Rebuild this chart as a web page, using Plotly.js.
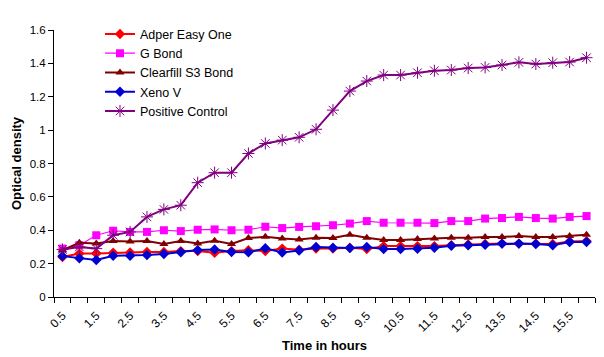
<!DOCTYPE html>
<html>
<head>
<meta charset="utf-8">
<script src="https://cdn.plot.ly/plotly-3.0.1.min.js"></script>
<style>html,body{margin:0;padding:0;background:#fff;}#chart{width:604px;height:357px;}</style>
</head>
<body>
<div id="chart"></div>
<script>
const hours = [0.5,1,1.5,2,2.5,3,3.5,4,4.5,5,5.5,6,6.5,7,7.5,8,8.5,9,9.5,10,10.5,11,11.5,12,12.5,13,13.5,14,14.5,15,15.5,16];
const tickLabels = ["0.5","1.5","2.5","3.5","4.5","5.5","6.5","7.5","8.5","9.5","10.5","11.5","12.5","13.5","14.5","15.5"];
const adper = [0.24,0.26,0.26,0.265,0.267,0.27,0.27,0.275,0.275,0.265,0.275,0.28,0.275,0.29,0.283,0.29,0.29,0.295,0.287,0.305,0.305,0.305,0.305,0.31,0.315,0.318,0.32,0.32,0.32,0.318,0.333,0.335];
const gbond = [0.29,0.31,0.37,0.397,0.39,0.39,0.40,0.395,0.403,0.405,0.40,0.403,0.421,0.413,0.42,0.424,0.43,0.44,0.455,0.445,0.445,0.445,0.443,0.455,0.455,0.47,0.473,0.48,0.473,0.47,0.48,0.485];
const clearfill = [0.28,0.325,0.32,0.335,0.333,0.335,0.318,0.335,0.32,0.337,0.318,0.353,0.361,0.35,0.345,0.355,0.353,0.373,0.355,0.342,0.342,0.348,0.35,0.355,0.355,0.36,0.36,0.365,0.36,0.36,0.365,0.373];
const xeno = [0.245,0.232,0.222,0.247,0.247,0.251,0.258,0.268,0.281,0.285,0.27,0.268,0.292,0.267,0.279,0.30,0.295,0.293,0.30,0.287,0.287,0.289,0.295,0.307,0.31,0.313,0.32,0.32,0.318,0.31,0.33,0.33];
const positive = [0.285,0.30,0.29,0.37,0.39,0.48,0.525,0.55,0.685,0.745,0.745,0.86,0.92,0.94,0.957,1.005,1.12,1.234,1.294,1.33,1.33,1.344,1.356,1.36,1.372,1.376,1.39,1.406,1.396,1.404,1.408,1.434];

const tickPos = tickLabels.map(Number);
const boundaries = [];
for (let i = 0; i <= hours.length; i++) boundaries.push(hours[0] - 0.25 + i * 0.5);

const traces = [
  {name:'Adper Easy One', y:adper, line:{color:'#FF0000',width:2}, marker:{symbol:'diamond',size:8,color:'#FF0000'}},
  {name:'G Bond', y:gbond, line:{color:'#FF00FF',width:1.2}, marker:{symbol:'square',size:8,color:'#FF00FF'}},
  {name:'Clearfill S3 Bond', y:clearfill, line:{color:'#800000',width:2}, marker:{symbol:'triangle-up',size:8,color:'#800000'}},
  {name:'Xeno V', y:xeno, line:{color:'#0000D0',width:2}, marker:{symbol:'diamond',size:8,color:'#0000D0'}},
  {name:'Positive Control', y:positive, line:{color:'#800080',width:2}, marker:{symbol:'asterisk-open',size:10,color:'#800080',line:{color:'#800080',width:1}}}
].map(t => Object.assign({x:hours, type:'scatter', mode:'lines+markers'}, t));

const layout = {
  width:604, height:357,
  margin:{l:54, r:9, t:30, b:60},
  paper_bgcolor:'#fff', plot_bgcolor:'#fff',
  font:{family:'Liberation Sans, Arial, sans-serif', size:11, color:'#000'},
  showlegend:true,
  legend:{x:0.085, y:1.04, xanchor:'left', yanchor:'top', bgcolor:'rgba(0,0,0,0)', font:{size:12.5}, tracegroupgap:0, itemwidth:30},
  xaxis:{
    range:[hours[0]-0.25, hours[hours.length-1]+0.25],
    tickmode:'array', tickvals:tickPos, ticktext:tickLabels, ticks:'', tickangle:-45, ticklabelstandoff:6,
    showline:true, linecolor:'#000', linewidth:1, showgrid:false, zeroline:false,
    minor:{tickmode:'array', tickvals:boundaries, ticks:'outside', ticklen:5, tickcolor:'#000', showgrid:false},
    title:{text:'Time in hours', font:{size:13, weight:'bold'}, standoff:6},
    tickfont:{size:12}
  },
  yaxis:{
    range:[0,1.6], dtick:0.2, tick0:0, ticks:'outside', ticklen:5, tickcolor:'#000',
    showline:true, linecolor:'#000', linewidth:1, showgrid:false, zeroline:false,
    title:{text:'Optical density', font:{size:13, weight:'bold'}, standoff:5},
    tickfont:{size:11.5}
  }
};

Plotly.newPlot('chart', traces, layout, {displayModeBar:false, staticPlot:true});
</script>
</body>
</html>
